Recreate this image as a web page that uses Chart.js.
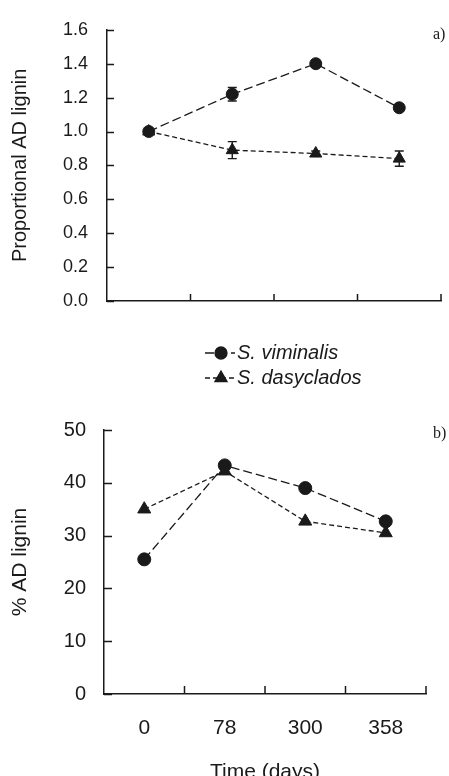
<!DOCTYPE html>
<html><head><meta charset="utf-8">
<script src="https://cdn.jsdelivr.net/npm/chart.js@4/dist/chart.umd.min.js"></script>
<style>
html,body{margin:0;padding:0;background:#fff;overflow:hidden;width:449px;height:776px}
#wa{position:absolute;left:0;top:0;width:449px;height:400px}
#wb{position:absolute;left:0;top:400px;width:449px;height:390px}
</style></head><body>
<div id="wa"><canvas id="ca"></canvas></div>
<div id="wb"><canvas id="cb"></canvas></div>
<script>
// ---- data ----
const days = ['0', '78', '300', '358'];
const seriesNames = ['S. viminalis', 'S. dasyclados'];
// panel a: proportional AD lignin
const propViminalis = [1.00, 1.22, 1.40, 1.14];
const propViminalisErr = [0.00, 0.04, 0.02, 0.02];
const propDasyclados = [1.00, 0.89, 0.87, 0.84];
const propDasycladosErr = [0.00, 0.05, 0.015, 0.045];
const propTicks = ['0.0', '0.2', '0.4', '0.6', '0.8', '1.0', '1.2', '1.4', '1.6'];
// panel b: % AD lignin
const pctViminalis = [25.5, 43.3, 39.0, 32.7];
const pctDasyclados = [35.0, 42.2, 32.7, 30.5];
const pctTicks = ['0', '10', '20', '30', '40', '50'];

const ink = '#1a1a1a';
const sans = "'Liberation Sans', Arial, sans-serif";

const panelPlugin = {
  id: 'panel',
  beforeDatasetsDraw(chart, args, opts) {
    const ctx = chart.ctx, x = chart.scales.x, y = chart.scales.y;
    (opts.errors || []).forEach((errs, di) => {
      const ds = chart.data.datasets[di];
      errs.forEach((e, i) => {
        if (!e) return;
        const px = x.getPixelForValue(i), v = ds.data[i];
        const y1 = y.getPixelForValue(v + e), y2 = y.getPixelForValue(v - e);
        ctx.save();
        ctx.strokeStyle = ink; ctx.lineWidth = 1.4;
        ctx.beginPath();
        ctx.moveTo(px, y1); ctx.lineTo(px, y2);
        ctx.moveTo(px - 4.5, y1); ctx.lineTo(px + 4.5, y1);
        ctx.moveTo(px - 4.5, y2); ctx.lineTo(px + 4.5, y2);
        ctx.stroke();
        ctx.restore();
      });
    });
  },
  afterDraw(chart, args, opts) {
    const ctx = chart.ctx, x = chart.scales.x, y = chart.scales.y, a = chart.chartArea;
    ctx.save();
    ctx.strokeStyle = ink; ctx.lineWidth = 1.5;
    ctx.beginPath();
    y.ticks.forEach(t => {
      const py = Math.round(y.getPixelForValue(t.value)) + 0.5;
      ctx.moveTo(a.left, py); ctx.lineTo(a.left + opts.tick, py);
    });
    const n = chart.data.labels.length;
    const half = (x.getPixelForValue(1) - x.getPixelForValue(0)) / 2;
    for (let i = 0; i < n; i++) {
      const px = x.getPixelForValue(i) + half;
      ctx.moveTo(px, a.bottom); ctx.lineTo(px, a.bottom - opts.tick);
    }
    ctx.stroke();
    ctx.fillStyle = ink;
    ctx.font = opts.tagFont;
    ctx.textAlign = 'left'; ctx.textBaseline = 'middle';
    ctx.fillText(opts.tag, opts.tagX, opts.tagY);
    if (opts.legend) {
      const L = opts.legend;
      chart.data.datasets.forEach((ds, i) => {
        const ly = L.y + i * L.gap;
        ctx.save();
        ctx.strokeStyle = ink; ctx.lineWidth = 1.3;
        ctx.setLineDash(ds.borderDash || []);
        ctx.beginPath(); ctx.moveTo(L.x, ly); ctx.lineTo(L.x + 30, ly); ctx.stroke();
        ctx.setLineDash([]);
        ctx.fillStyle = ink; ctx.strokeStyle = ink;
        Chart.helpers.drawPoint(ctx, {pointStyle: ds.pointStyle, radius: ds.pointRadius, rotation: 0, borderWidth: 1}, L.x + 16, ly);
        ctx.restore();
        ctx.fillStyle = ink;
        ctx.font = L.font;
        ctx.textAlign = 'left'; ctx.textBaseline = 'middle';
        ctx.fillText(ds.label, L.x + 32, ly);
      });
    }
    ctx.restore();
  }
};

function ds(label, data, dash, style, r) {
  return {
    label, data, borderColor: ink, backgroundColor: ink, borderWidth: 1.3,
    borderDash: dash, pointStyle: style, pointRadius: r, pointHoverRadius: r,
    pointBackgroundColor: ink, pointBorderColor: ink, pointBorderWidth: 1,
    fill: false, tension: 0
  };
}

new Chart(document.getElementById('ca'), {
  type: 'line',
  data: {
    labels: days,
    datasets: [
      ds(seriesNames[0], propViminalis, [9, 4], 'circle', 6),
      ds(seriesNames[1], propDasyclados, [5, 3], 'triangle', 7)
    ]
  },
  options: {
    responsive: true, maintainAspectRatio: false, animation: false,
    layout: {padding: {left: 0, right: 6, top: 20, bottom: 0}},
    plugins: {
      legend: {display: false}, tooltip: {enabled: false},
      panel: {
        errors: [propViminalisErr, propDasycladosErr], tick: 7,
        tag: 'a)', tagX: 433, tagY: 35, tagFont: "16px 'Liberation Serif', 'Times New Roman', serif",
        legend: {x: 205, y: 353, gap: 25, font: "italic 20px " + sans}
      }
    },
    scales: {
      x: {
        type: 'category', offset: true,
        grid: {display: false, drawTicks: false},
        border: {display: true, color: ink, width: 1.5},
        ticks: {display: false},
        afterFit(s) { s.height = 99; }
      },
      y: {
        min: 0, max: 1.6,
        grid: {display: false, drawTicks: false},
        border: {display: true, color: ink, width: 1.5},
        ticks: {stepSize: 0.2, color: ink, padding: 19, font: {family: sans, size: 18},
          callback: (v, i) => propTicks[i]},
        title: {display: true, text: 'Proportional AD lignin', color: ink,
          font: {family: sans, size: 20}, padding: {top: 8, bottom: 0}},
        afterFit(s) { s.width = 107; }
      }
    }
  },
  plugins: [panelPlugin]
});

new Chart(document.getElementById('cb'), {
  type: 'line',
  data: {
    labels: days,
    datasets: [
      ds(seriesNames[0], pctViminalis, [9, 4], 'circle', 6.5),
      ds(seriesNames[1], pctDasyclados, [5, 3], 'triangle', 7.5)
    ]
  },
  options: {
    responsive: true, maintainAspectRatio: false, animation: false,
    layout: {padding: {left: 0, right: 23, top: 27, bottom: 0}},
    plugins: {
      legend: {display: false}, tooltip: {enabled: false},
      panel: {
        errors: [], tick: 8,
        tag: 'b)', tagX: 433, tagY: 34, tagFont: "16px 'Liberation Serif', 'Times New Roman', serif"
      }
    },
    scales: {
      x: {
        type: 'category', offset: true,
        grid: {display: false, drawTicks: false},
        border: {display: true, color: ink, width: 1.5},
        ticks: {color: ink, padding: 22, font: {family: sans, size: 21}, maxRotation: 0},
        title: {display: true, text: 'Time (days)', color: ink,
          font: {family: sans, size: 21}, padding: {top: 0, bottom: 5}},
        afterFit(s) { s.height = 96; }
      },
      y: {
        min: 0, max: 50,
        grid: {display: false, drawTicks: false},
        border: {display: true, color: ink, width: 1.5},
        ticks: {stepSize: 10, color: ink, padding: 18, font: {family: sans, size: 20},
          callback: (v, i) => pctTicks[i]},
        title: {display: true, text: '% AD lignin', color: ink,
          font: {family: sans, size: 21}, padding: {top: 8, bottom: 0}},
        afterFit(s) { s.width = 104; }
      }
    }
  },
  plugins: [panelPlugin]
});
</script>
</body></html>
